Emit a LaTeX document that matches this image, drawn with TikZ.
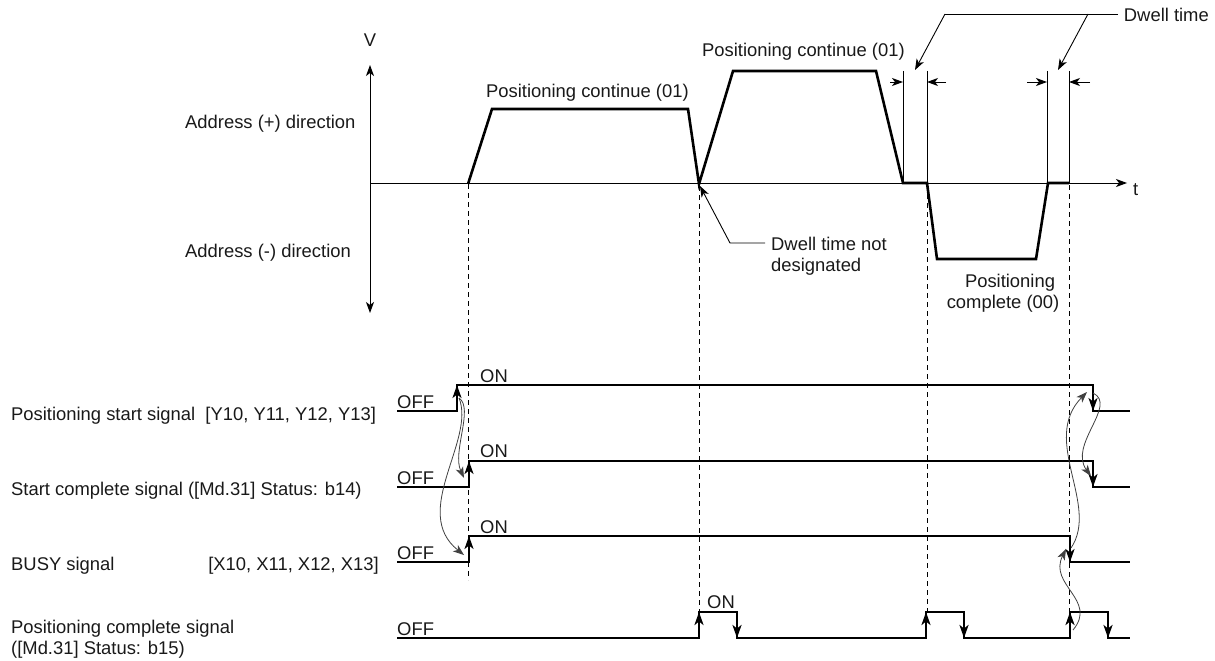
\documentclass[tikz,border=0pt]{standalone}
\usepackage{fontspec}
\setmainfont{Liberation Sans}
\usetikzlibrary{arrows.meta}
\begin{document}
\begin{tikzpicture}[x=1pt,y=-1pt,
  every node/.style={inner sep=0pt, font=\fontsize{18.4}{22}\selectfont, text=black!90},
  prof/.style={line width=2.6pt, line join=miter},
  sigline/.style={line width=1.8pt},
  pcline/.style={line width=2.3pt},
  thinline/.style={line width=0.9pt},
  curveline/.style={line width=0.8pt, draw=black!75},
  dashline/.style={line width=0.9pt, dash pattern=on 5pt off 4pt},
  bigtip/.style={-{Stealth[length=13pt,width=9pt,inset=3.5pt]}},
  smalltip/.style={-{Stealth[length=11pt,width=8pt,inset=3pt]}},
  curvetip/.style={-{Stealth[length=11pt,width=8pt,inset=3pt]}}
]
\useasboundingbox (0,0) rectangle (1215,661);

% ---------------- axes ----------------
\coordinate (vtop) at (370,65);
\coordinate (vbot) at (370,313);
\coordinate (org) at (370,183);
\coordinate (tend) at (1127,183);
\draw[thinline, {Stealth[length=11pt,width=8pt,inset=3pt]}-{Stealth[length=11pt,width=8pt,inset=3pt]}] (vtop) -- (vbot);
\draw[thinline, -{Stealth[length=11pt,width=8pt,inset=3pt]}] (org) -- (tend);
\node[anchor=base] (vlab) at (370,47) {V};
\node[anchor=base west] (tlab) at (1133,195) {t};
\node[anchor=base west] (addp) at (185,128) {Address (+) direction};
\node[anchor=base west] (addm) at (185,257) {Address (-) direction};

% ---------------- dashed guides ----------------
\draw[dashline] (468,184) -- (468,580);
\draw[dashline] (699,186) -- (699,612);
\draw[dashline] (927,185) -- (927,612);
\draw[dashline] (1069,185) -- (1069,612);

% ---------------- dwell markers ----------------
\draw[thinline] (903,71) -- (903,183);
\draw[thinline] (927,71) -- (927,183);
\draw[thinline] (1047,71) -- (1047,183);
\draw[thinline] (1069,71) -- (1069,183);
\draw[thinline, smalltip] (890,82) -- (903,82);
\draw[thinline, smalltip] (946,82) -- (927,82);
\draw[thinline, smalltip] (1027,82) -- (1047,82);
\draw[thinline, smalltip] (1090,82) -- (1069,82);

% ---------------- velocity profile ----------------
\draw[prof] (468,184) -- (492,109) -- (688,109) -- (699,184) -- (733,71) -- (876,71)
  -- (903,183) -- (927,183) -- (937,259) -- (1036,259) -- (1048,183) -- (1069,183);

\node[anchor=base west] (pc1) at (486,97) {Positioning continue (01)};
\node[anchor=base west] (pc2) at (702,57) {Positioning continue (01)};

% Dwell time leader
\node[anchor=base east] (dwell) at (1209,22) {Dwell time};
\coordinate (dl) at (1118,14);
\coordinate (dk1) at (945,14);
\coordinate (dk2) at (1088,14);
\coordinate (dw1) at (915,70);
\coordinate (dw2) at (1058,70);
\draw[thinline] (dl) -- (dk1);
\draw[thinline, smalltip] (dk1) -- (dw1);
\draw[thinline, smalltip] (dk2) -- (dw2);

% Dwell time not designated
\node[anchor=base west] (dnd1) at (771,250) {Dwell time not};
\node[anchor=base west] (dnd2) at (771,271) {designated};
\coordinate (nd0) at (765,243);
\coordinate (nd1) at (730,243);
\coordinate (nd2) at (700,186);
\draw[thinline, smalltip] (nd0) -- (nd1) -- (nd2);

\node[anchor=base] (pcomp1) at (1010,287) {Positioning};
\node[anchor=base] (pcomp2) at (1003,308) {complete (00)};

% ---------------- signal labels ----------------
\node[anchor=base west] (l1) at (11,420) {Positioning start signal\ \ [Y10, Y11, Y12, Y13]};
\node[anchor=base west] (l2) at (11,495) {Start complete signal ([Md.31] Status: b14)};
\node[anchor=base west] (l3a) at (11,570) {BUSY signal};
\node[anchor=base east] (l3b) at (379,570) {[X10, X11, X12, X13]};
\node[anchor=base west] (l4a) at (11,633) {Positioning complete signal};
\node[anchor=base west] (l4b) at (11,654) {([Md.31] Status: b15)};

\node[anchor=base west] (off1) at (397,408) {OFF};
\node[anchor=base west] (off2) at (397,484) {OFF};
\node[anchor=base west] (off3) at (397,559) {OFF};
\node[anchor=base west] (off4) at (397,635) {OFF};
\node[anchor=base west] (on1) at (480,382) {ON};
\node[anchor=base west] (on2) at (480,457) {ON};
\node[anchor=base west] (on3) at (480,533) {ON};
\node[anchor=base west] (on4) at (707,608) {ON};

% ---------------- signals ----------------
% Positioning start signal
\draw[sigline] (397,411) -- (457,411) -- (457,385) -- (1093,385) -- (1093,411) -- (1130,411);
\draw[sigline, bigtip] (457,411) -- (457,385);
\draw[sigline, bigtip] (1093,385) -- (1093,411);
% Start complete signal
\draw[sigline] (397,487) -- (469,487) -- (469,461) -- (1093,461) -- (1093,487) -- (1130,487);
\draw[sigline, bigtip] (469,487) -- (469,461);
\draw[sigline, bigtip] (1093,461) -- (1093,487);
% BUSY signal
\draw[sigline] (397,562) -- (469,562) -- (469,536) -- (1070,536) -- (1070,562) -- (1130,562);
\draw[sigline, bigtip] (469,562) -- (469,536);
\draw[sigline, bigtip] (1070,536) -- (1070,562);
% Positioning complete signal
\draw[pcline] (397,638) -- (699,638) -- (699,612) -- (737,612) -- (737,638) -- (926,638)
  -- (926,612) -- (964,612) -- (964,638) -- (1070,638) -- (1070,612) -- (1108,612) -- (1108,638) -- (1130,638);
\draw[pcline, bigtip] (699,638) -- (699,612);
\draw[pcline, bigtip] (737,612) -- (737,638);
\draw[pcline, bigtip] (926,638) -- (926,612);
\draw[pcline, bigtip] (964,612) -- (964,638);
\draw[pcline, bigtip] (1070,638) -- (1070,612);
\draw[pcline, bigtip] (1108,612) -- (1108,638);

% ---------------- causal curves ----------------
\coordinate (s1r) at (459,398);
\coordinate (s2r) at (464,478);
\coordinate (s3r) at (464,555);
\draw[curveline, curvetip] (s1r) .. controls (474,408) and (452,452) .. (s2r);
\draw[curveline, curvetip] (s1r) .. controls (476,440) and (410,512) .. (s3r);

\coordinate (s1f) at (1093,393);
\coordinate (s1fa) at (1087,392);
\coordinate (s2f) at (1091,476);
\coordinate (s3f) at (1071,548);
\coordinate (s3fa) at (1066,549);
\coordinate (s4r) at (1073,630);
\draw[curveline, curvetip] (s1f) .. controls (1118,405) and (1068,445) .. (s2f);
\draw[curveline, curvetip] (s3f) .. controls (1100,505) and (1040,440) .. (s1fa);
\draw[curveline, curvetip] (s4r) .. controls (1098,600) and (1048,585) .. (s3fa);
\end{tikzpicture}
\end{document}
